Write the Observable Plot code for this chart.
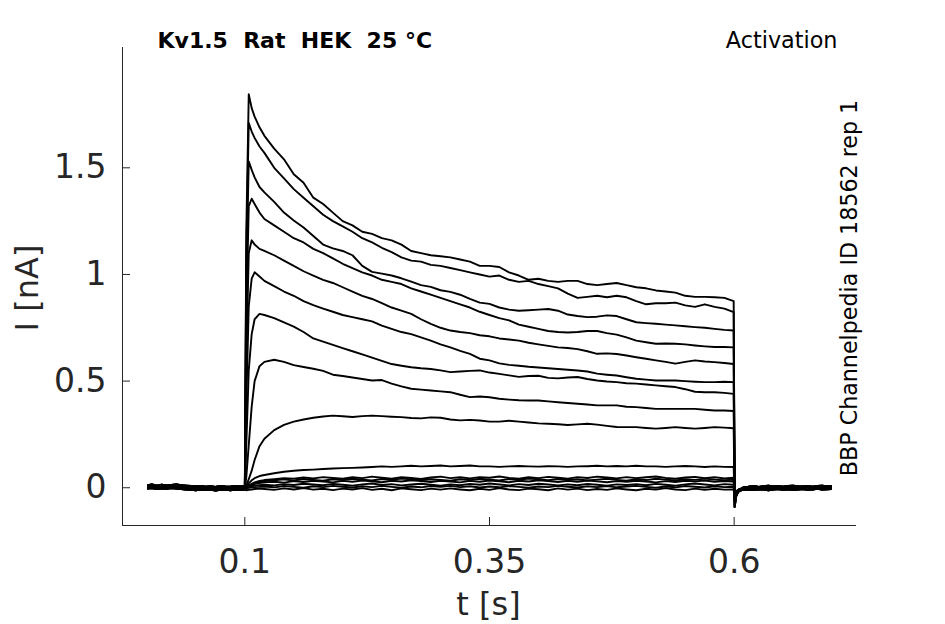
<!DOCTYPE html>
<html>
<head>
<meta charset="utf-8">
<script src="https://cdn.jsdelivr.net/npm/d3@7"></script>
<script src="https://cdn.jsdelivr.net/npm/@observablehq/plot@0.6"></script>
<style>
html, body { margin: 0; padding: 0; background: #fff; }
</style>
</head>
<body>
<div id="chart"></div>
<script>
// ---- tick labels ----
const xTicks = [0.1, 0.35, 0.6];
const xTickLabels = ["0.1", "0.35", "0.6"];
const yTicks = [0, 0.5, 1, 1.5];
const yTickLabels = ["0", "0.5", "1", "1.5"];

// ---- sample times (s) ----
const preT = [0.001, 0.005, 0.01, 0.015, 0.02, 0.025, 0.03, 0.035, 0.04, 0.045, 0.05,
  0.055, 0.06, 0.065, 0.07, 0.075, 0.08, 0.085, 0.09, 0.095, 0.1];
const pulseT = [0.1015, 0.104, 0.107, 0.11, 0.115,
  0.12, 0.13, 0.14, 0.15, 0.16, 0.17, 0.18, 0.19,
  0.2, 0.21, 0.22, 0.23, 0.24, 0.25, 0.26, 0.27, 0.28, 0.29,
  0.3, 0.31, 0.32, 0.33, 0.34, 0.35, 0.36, 0.37, 0.38, 0.39,
  0.4, 0.41, 0.42, 0.43, 0.44, 0.45, 0.46, 0.47, 0.48, 0.49,
  0.5, 0.51, 0.52, 0.53, 0.54, 0.55, 0.56, 0.57, 0.58, 0.59,
  0.5995];
const tailT = [0.6005, 0.602, 0.604, 0.607, 0.61, 0.615, 0.62, 0.625, 0.63, 0.635, 0.64,
  0.645, 0.65, 0.655, 0.66, 0.665, 0.67, 0.675, 0.68, 0.685, 0.69, 0.695, 0.699];

// ---- baseline before the step (nA) ----
const preA = [0.012, 0.015, 0.01, 0.014, 0.011, 0.013, 0.016, 0.012, 0.01, 0.008, 0.006, 0.009, 0.005, 0.007, 0.004, 0.008, 0.006, 0.005, 0.008, 0.006, 0.007];
const preB = [0.004, 0.002, 0.006, 0.003, 0.005, 0.001, 0.004, 0.006, 0.002, -0.001, -0.002, 0.001, -0.003, 0.0, -0.002, 0.001, -0.001, -0.003, 0.0, -0.002, 0.0];
const preC = [-0.004, -0.002, -0.006, -0.003, -0.005, -0.001, -0.004, -0.006, -0.008, -0.01, -0.012, -0.009, -0.011, -0.008, -0.013, -0.01, -0.009, -0.012, -0.01, -0.011, -0.009];
const preD = [0.008, 0.005, 0.002, 0.007, -0.002, 0.004, 0.0, 0.006, 0.003, -0.005, -0.007, -0.004, -0.006, -0.003, -0.008, -0.005, -0.002, -0.006, -0.004, -0.007, -0.005];

// ---- tail after the step (nA) ----
const tailA = [-0.09, -0.04, -0.02, -0.008, 0.0, 0.005, 0.008, 0.004, 0.007, 0.01, 0.006, 0.009, 0.005, 0.008, 0.01, 0.007, 0.006, 0.009, 0.005, 0.008, 0.01, 0.006, 0.008];
const tailB = [-0.06, -0.03, -0.015, -0.006, -0.002, 0.001, -0.002, 0.002, 0.0, -0.003, 0.001, 0.003, -0.001, 0.002, 0.0, -0.002, 0.003, 0.001, -0.002, 0.002, 0.0, 0.003, 0.001];
const tailC = [-0.04, -0.025, -0.018, -0.012, -0.01, -0.008, -0.011, -0.007, -0.009, -0.012, -0.008, -0.006, -0.01, -0.007, -0.011, -0.009, -0.006, -0.01, -0.008, -0.005, -0.009, -0.007, -0.006];
const tailD = [-0.03, -0.02, -0.01, -0.004, 0.003, -0.003, 0.002, -0.004, 0.004, 0.0, -0.005, 0.002, 0.004, -0.003, 0.003, -0.004, 0.0, 0.004, -0.003, 0.001, -0.004, 0.002, -0.002];

// ---- current during the step (nA), one array per sweep ----
const sweep1 = [1.2, 1.845, 1.78, 1.74, 1.69,
  1.65, 1.59, 1.54, 1.47, 1.43, 1.36, 1.33, 1.29,
  1.25, 1.23, 1.2, 1.19, 1.17, 1.16, 1.14, 1.11, 1.1, 1.09,
  1.085, 1.08, 1.07, 1.06, 1.04, 1.04, 1.035, 1.01, 0.995, 0.975,
  0.98, 0.97, 0.965, 0.97, 0.97, 0.955, 0.95, 0.955, 0.96, 0.95,
  0.94, 0.935, 0.925, 0.92, 0.915, 0.9, 0.895, 0.895, 0.893, 0.89,
  0.875];
const sweep2 = [1.1, 1.71, 1.67, 1.64, 1.6,
  1.57, 1.5, 1.45, 1.4, 1.36, 1.32, 1.28, 1.25,
  1.225, 1.2, 1.17, 1.15, 1.125, 1.105, 1.08, 1.065, 1.06, 1.045,
  1.04, 1.03, 1.02, 1.01, 1.0, 0.99, 0.995, 0.975, 0.965, 0.97,
  0.955, 0.945, 0.935, 0.91, 0.89, 0.895, 0.9, 0.893, 0.9, 0.893,
  0.875, 0.86, 0.865, 0.865, 0.868, 0.855, 0.848, 0.86, 0.848, 0.84,
  0.823];
const sweep3 = [1.0, 1.53, 1.49, 1.455, 1.41,
  1.385, 1.34, 1.29, 1.253, 1.22, 1.18, 1.14, 1.122,
  1.11, 1.09, 1.04, 1.012, 1.004, 0.995, 0.982, 0.966, 0.95, 0.942,
  0.926, 0.918, 0.905, 0.885, 0.868, 0.862, 0.845, 0.835, 0.83, 0.832,
  0.835, 0.838, 0.83, 0.812, 0.805, 0.8, 0.802, 0.808, 0.805, 0.79,
  0.776, 0.772, 0.769, 0.765, 0.761, 0.757, 0.753, 0.75, 0.745, 0.74,
  0.737];
const sweep4 = [0.8, 1.32, 1.355, 1.33, 1.29,
  1.26, 1.23, 1.2, 1.17, 1.15, 1.12, 1.1, 1.075,
  1.05, 1.03, 1.01, 0.995, 0.975, 0.965, 0.955, 0.935, 0.92, 0.905,
  0.89, 0.875, 0.86, 0.845, 0.825, 0.81, 0.795, 0.785, 0.765, 0.755,
  0.745, 0.735, 0.73, 0.728, 0.73, 0.735, 0.735, 0.725, 0.718, 0.705,
  0.69, 0.682, 0.675, 0.676, 0.675, 0.672, 0.667, 0.663, 0.66, 0.66,
  0.658];
const sweep5 = [0.6, 1.1, 1.16, 1.14, 1.12,
  1.11, 1.09, 1.065, 1.04, 1.015, 0.995, 0.975, 0.96,
  0.94, 0.92, 0.9, 0.885, 0.865, 0.845, 0.83, 0.815, 0.79, 0.768,
  0.75, 0.737, 0.73, 0.725, 0.715, 0.71, 0.7, 0.695, 0.69, 0.68,
  0.672, 0.665, 0.658, 0.655, 0.65, 0.64, 0.628, 0.63, 0.627, 0.62,
  0.612, 0.605, 0.597, 0.59, 0.582, 0.59, 0.597, 0.592, 0.589, 0.585,
  0.58];
const sweep6 = [0.4, 0.85, 0.98, 1.01, 0.99,
  0.97, 0.945, 0.92, 0.9, 0.875, 0.856, 0.84, 0.825,
  0.81, 0.8, 0.79, 0.78, 0.76, 0.745, 0.73, 0.72, 0.705, 0.69,
  0.672, 0.658, 0.642, 0.628, 0.605, 0.597, 0.583, 0.576, 0.572, 0.567,
  0.564, 0.56, 0.557, 0.553, 0.55, 0.545, 0.535, 0.53, 0.526, 0.518,
  0.511, 0.507, 0.503, 0.503, 0.503, 0.5, 0.497, 0.495, 0.495, 0.497,
  0.495];
const sweep7 = [0.2, 0.55, 0.72, 0.79, 0.815,
  0.81, 0.795, 0.775, 0.755, 0.73, 0.7, 0.685, 0.67,
  0.655, 0.64, 0.625, 0.61, 0.595, 0.58, 0.572, 0.565, 0.56, 0.557,
  0.55, 0.542, 0.545, 0.548, 0.55, 0.54, 0.534, 0.527, 0.52, 0.524,
  0.525, 0.515, 0.513, 0.517, 0.519, 0.51, 0.503, 0.498, 0.495, 0.49,
  0.488, 0.484, 0.48, 0.476, 0.472, 0.462, 0.45, 0.448, 0.448, 0.445,
  0.44];
const sweep8 = [0.05, 0.2, 0.38, 0.5, 0.57,
  0.59, 0.6, 0.59, 0.575, 0.566, 0.558, 0.548, 0.53,
  0.524, 0.517, 0.51, 0.503, 0.505, 0.488, 0.475, 0.464, 0.46, 0.456,
  0.452, 0.448, 0.436, 0.425, 0.428, 0.424, 0.417, 0.413, 0.41, 0.409,
  0.409, 0.405, 0.401, 0.397, 0.394, 0.39, 0.386, 0.386, 0.386, 0.38,
  0.378, 0.374, 0.37, 0.37, 0.37, 0.37, 0.37, 0.366, 0.362, 0.362,
  0.36];
const sweep9 = [0.01, 0.04, 0.08, 0.13, 0.195,
  0.23, 0.27, 0.295, 0.31, 0.32, 0.328, 0.334, 0.338,
  0.335, 0.332, 0.336, 0.338, 0.336, 0.333, 0.331, 0.327, 0.325, 0.33,
  0.328, 0.32, 0.316, 0.318, 0.315, 0.31, 0.31, 0.314, 0.31, 0.306,
  0.302, 0.3, 0.298, 0.294, 0.297, 0.3, 0.296, 0.29, 0.285, 0.284,
  0.284, 0.28, 0.277, 0.28, 0.284, 0.28, 0.277, 0.28, 0.284, 0.282,
  0.279];
const sweep10 = [0.005, 0.02, 0.035, 0.045, 0.055,
  0.06, 0.068, 0.075, 0.08, 0.083, 0.085, 0.088, 0.09,
  0.092, 0.093, 0.095, 0.097, 0.1, 0.098, 0.1, 0.103, 0.1, 0.102,
  0.104, 0.1, 0.102, 0.104, 0.1, 0.1, 0.098, 0.1, 0.102, 0.1,
  0.099, 0.101, 0.1, 0.098, 0.1, 0.101, 0.103, 0.1, 0.102, 0.1,
  0.103, 0.1, 0.1, 0.098, 0.1, 0.102, 0.1, 0.097, 0.1, 0.098,
  0.097];
const sweep11 = [0.004, 0.01, 0.018, 0.025, 0.032,
  0.036, 0.04, 0.045, 0.043, 0.048, 0.044, 0.05, 0.046,
  0.042, 0.049, 0.045, 0.052, 0.047, 0.043, 0.05, 0.046, 0.041, 0.048,
  0.052, 0.045, 0.049, 0.044, 0.05, 0.047, 0.053, 0.046, 0.042, 0.049,
  0.045, 0.051, 0.047, 0.043, 0.05, 0.046, 0.052, 0.048, 0.044, 0.05,
  0.045, 0.049, 0.053, 0.046, 0.042, 0.048, 0.051, 0.045, 0.049, 0.044,
  0.047];
const sweep12 = [0.003, 0.008, 0.013, 0.018, 0.022,
  0.025, 0.028, 0.024, 0.031, 0.027, 0.033, 0.029, 0.025,
  0.032, 0.028, 0.034, 0.03, 0.026, 0.033, 0.029, 0.035, 0.031, 0.027,
  0.033, 0.029, 0.025, 0.032, 0.028, 0.034, 0.03, 0.026, 0.033, 0.029,
  0.035, 0.031, 0.027, 0.032, 0.028, 0.034, 0.03, 0.026, 0.031, 0.028,
  0.033, 0.029, 0.025, 0.031, 0.027, 0.033, 0.03, 0.034, 0.028, 0.031,
  0.029];
const sweep13 = [0.001, 0.005, 0.008, 0.01, 0.012,
  0.014, 0.011, 0.017, 0.013, 0.019, 0.015, 0.012, 0.018,
  0.014, 0.01, 0.016, 0.02, 0.013, 0.017, 0.011, 0.015, 0.019, 0.014,
  0.01, 0.016, 0.012, 0.018, 0.014, 0.02, 0.015, 0.011, 0.017, 0.013,
  0.019, 0.015, 0.011, 0.016, 0.012, 0.018, 0.014, 0.01, 0.016, 0.013,
  0.017, 0.012, 0.018, 0.014, 0.01, 0.016, 0.02, 0.015, 0.011, 0.017,
  0.014];
const sweep14 = [-0.012, -0.01, -0.008, -0.006, -0.004,
  -0.006, -0.01, -0.003, -0.008, -0.002, -0.009, -0.005, -0.011,
  -0.004, -0.008, -0.002, -0.01, -0.005, -0.012, -0.003, -0.007, -0.011, -0.004,
  -0.009, -0.003, -0.008, -0.012, -0.005, -0.01, -0.002, -0.008, -0.011, -0.004,
  -0.007, -0.012, -0.003, -0.009, -0.004, -0.011, -0.006, -0.01, -0.003, -0.008,
  -0.012, -0.005, -0.009, -0.002, -0.008, -0.011, -0.004, -0.01, -0.005, -0.009,
  -0.008];
const sweep15 = [0.003, 0.009, 0.015, 0.021, 0.027,
  0.031, 0.035, 0.039, 0.034, 0.041, 0.037, 0.033, 0.04,
  0.036, 0.042, 0.038, 0.034, 0.041, 0.037, 0.043, 0.039, 0.035, 0.04,
  0.037, 0.033, 0.04, 0.036, 0.042, 0.038, 0.034, 0.041, 0.037, 0.043,
  0.039, 0.035, 0.041, 0.036, 0.04, 0.034, 0.038, 0.042, 0.037, 0.033,
  0.04, 0.036, 0.042, 0.038, 0.034, 0.04, 0.037, 0.043, 0.038, 0.035,
  0.038];
const sweep16 = [-0.004, 0.0, 0.002, 0.003, 0.004,
  0.006, 0.002, 0.008, 0.004, 0.0, 0.007, 0.003, 0.009,
  0.005, 0.001, 0.007, 0.003, 0.009, 0.004, 0.0, 0.006, 0.002, 0.008,
  0.004, 0.009, 0.003, 0.007, 0.001, 0.006, 0.002, 0.008, 0.004, 0.0,
  0.006, 0.003, 0.009, 0.005, 0.001, 0.007, 0.003, 0.008, 0.002, 0.006,
  0.009, 0.004, 0.0, 0.006, 0.002, 0.008, 0.005, 0.001, 0.007, 0.003,
  0.005];

// ---- texts ----
const titleText = "Kv1.5\u00a0\u00a0Rat\u00a0\u00a0HEK\u00a0\u00a025\u00a0°C";
const protocolText = "Activation";
const sideText = "BBP Channelpedia ID 18562 rep 1";
const xLabel = "t [s]";
const yLabel = "I [nA]";
const xDomain = [-0.025, 0.725];
const yDomain = [-0.177, 2.064];

// ---- build table ----
const sweeps = [sweep1, sweep2, sweep3, sweep4, sweep5, sweep6, sweep7, sweep8,
  sweep9, sweep10, sweep11, sweep12, sweep13, sweep14, sweep15, sweep16];
const pres = [preA, preB, preC, preD];
const tails = [tailA, tailB, tailC, tailD];
const rows = [];
sweeps.forEach((s, k) => {
  const pre = pres[k % 4], tail = tails[k % 4];
  preT.forEach((t, j) => rows.push({sweep: k, t, I: pre[j]}));
  pulseT.forEach((t, j) => rows.push({sweep: k, t, I: s[j]}));
  tailT.forEach((t, j) => rows.push({sweep: k, t, I: tail[j]}));
});

// layout
const W = 945, H = 624, mL = 122, mR = 89, mT = 47, mB = 99;
const tickPx = 8;
// inward tick lengths expressed in data units of each scale
const xTickLen = (xDomain[1] - xDomain[0]) * tickPx / (W - mL - mR);
const yTickLen = (yDomain[1] - yDomain[0]) * tickPx / (H - mT - mB);

const axisColor = "#262626";
const chart = Plot.plot({
  width: W,
  height: H,
  marginLeft: mL,
  marginRight: mR,
  marginTop: mT,
  marginBottom: mB,
  style: {fontFamily: "DejaVu Sans", color: axisColor, background: "#fff"},
  x: {domain: xDomain, axis: null},
  y: {domain: yDomain, axis: null},
  marks: [
    Plot.line(rows, {x: "t", y: "I", z: "sweep", stroke: "#000", strokeWidth: 1.9}),
    Plot.ruleX([xDomain[0]], {stroke: axisColor, strokeWidth: 1}),
    Plot.ruleY([yDomain[0]], {stroke: axisColor, strokeWidth: 1}),
    Plot.ruleX(xTicks, {x: d => d, y1: yDomain[0], y2: yDomain[0] + yTickLen, stroke: axisColor, strokeWidth: 1}),
    Plot.ruleY(yTicks, {y: d => d, x1: xDomain[0], x2: xDomain[0] + xTickLen, stroke: axisColor, strokeWidth: 1}),
    Plot.axisX({ticks: xTicks, tickSize: 0, tickPadding: 24, fontSize: 33,
      tickFormat: d => xTickLabels[xTicks.indexOf(d)], label: null}),
    Plot.axisY({ticks: yTicks, tickSize: 0, tickPadding: 16, fontSize: 33,
      tickFormat: d => yTickLabels[yTicks.indexOf(d)], label: null}),
    Plot.text([yLabel], {frameAnchor: "left", rotate: -90, dx: -94.5, dy: 1.5,
      textAnchor: "middle", lineAnchor: "middle", fontSize: 32, fill: axisColor}),
    Plot.text([xLabel], {frameAnchor: "bottom", dx: -1, dy: 89, textAnchor: "middle",
      lineAnchor: "bottom", fontSize: 32, fill: axisColor}),
    Plot.text([titleText], {frameAnchor: "top-left", textAnchor: "start", lineAnchor: "bottom",
      dx: 35, dy: 0, fontSize: 22, fontWeight: "bold", fill: "#000"}),
    Plot.text([protocolText], {frameAnchor: "top-right", textAnchor: "end", lineAnchor: "bottom",
      dx: -19, dy: 0, fontSize: 22.3, fill: "#000"}),
    Plot.text([sideText], {frameAnchor: "right", rotate: -90, textAnchor: "middle", lineAnchor: "bottom",
      dx: 0.5, dy: 1.5, fontSize: 22.2, fill: "#000"})
  ]
});
document.getElementById("chart").appendChild(chart);
</script>
</body>
</html>
